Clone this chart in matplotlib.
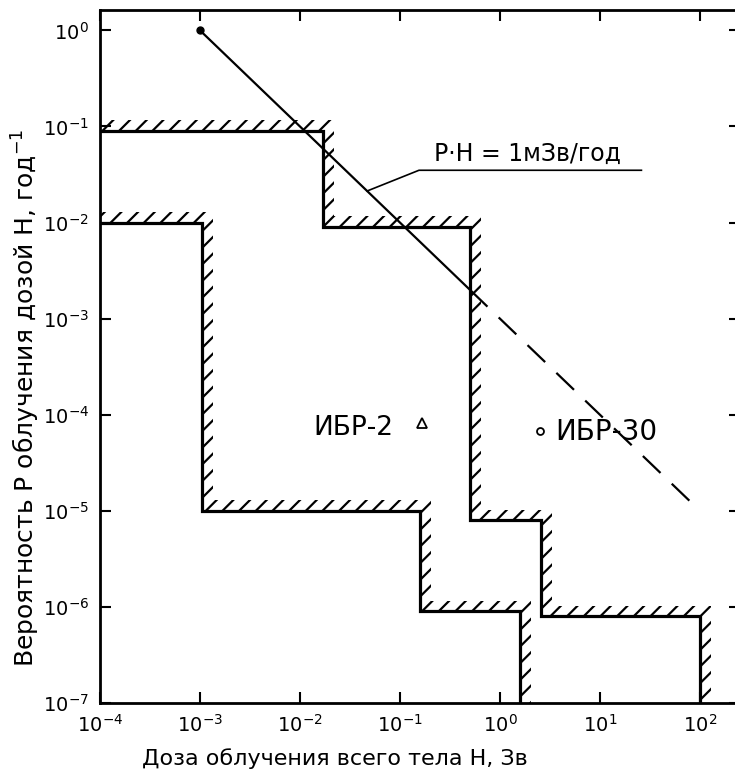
import numpy as np
import matplotlib.pyplot as plt
from matplotlib.ticker import NullLocator

plt.rcParams['font.family'] = ['DejaVu Sans']
plt.rcParams['hatch.linewidth'] = 1.6

# outer staircase: dose edges (Sv) and probability levels (1/yr)
outer_edges = [1e-4, 0.017, 0.5, 2.6, 100]
outer_levels = [0.09, 0.009, 8e-6, 8e-7]
# inner staircase
inner_edges = [1e-4, 1.05e-3, 0.16, 1.6]
inner_levels = [1e-2, 1e-5, 9e-7]

# P*H = 1 mSv/yr line
solid_H = [1e-3, 0.5]
solid_P = [1.0, 2e-3]
dash_H = [0.5, 100]
dash_P = [2e-3, 1e-5]

P_MIN = 1e-7

xticks = [1e-4, 1e-3, 1e-2, 1e-1, 1e0, 1e1, 1e2]
yticks = [1e-7, 1e-6, 1e-5, 1e-4, 1e-3, 1e-2, 1e-1, 1e0]


def stair(edges, levels):
    xs, ys = [edges[0]], [levels[0]]
    for i in range(len(levels)):
        nxt = levels[i + 1] if i + 1 < len(levels) else P_MIN
        xs += [edges[i + 1], edges[i + 1]]
        ys += [levels[i], nxt]
    return np.array(xs), np.array(ys)


def hatch_band(ax, xs, ys, f=10 ** 0.11):
    tx = xs * f
    ty = ys * f
    tx[0] = xs[0]
    ty[-1] = ys[-1]
    px = np.concatenate([xs, tx[::-1]])
    py = np.concatenate([ys, ty[::-1]])
    ax.fill(px, py, facecolor='none', edgecolor='k', linewidth=0, hatch='//')


fig = plt.figure(figsize=(7.35, 7.8), dpi=100)
ax = fig.add_axes([0.136, 0.0987, 0.8707, 0.888])
ax.set_xscale('log')
ax.set_yscale('log')
ax.set_xlim(1e-4, 10 ** 2.4)
ax.set_ylim(P_MIN, 10 ** 0.208)

for edges, levels in [(outer_edges, outer_levels), (inner_edges, inner_levels)]:
    xs, ys = stair(edges, levels)
    hatch_band(ax, xs, ys)
    ax.plot(xs, ys, color='k', lw=2.3, solid_joinstyle='miter')

ax.plot(solid_H, solid_P, color='k', lw=1.6)
ax.plot(dash_H, dash_P, color='k', lw=1.6, dashes=(11, 7))
ax.plot(solid_H[0], solid_P[0], 'o', color='k', ms=5)

# leader + underlined label
ax.plot([0.047, 0.155, 26.0], [0.0213, 0.035, 0.035], color='k', lw=1.2)
ax.text(1.9, 0.039, 'P·H = 1мЗв/год', ha='center', va='bottom', fontsize=17)

# reactor labels
ax.text(0.034, 7.2e-5, 'ИБР-2', ha='center', va='center', fontsize=19)
ax.plot([0.165], [8.2e-5], marker='^', mfc='none', mec='k', mew=1.3, ms=7)
ax.plot([2.5], [6.8e-5], marker='o', mfc='none', mec='k', mew=1.3, ms=5)
ax.text(3.6, 6.6e-5, 'ИБР-30', ha='left', va='center', fontsize=20)

ax.set_xticks(xticks)
ax.set_yticks(yticks)
ax.xaxis.set_minor_locator(NullLocator())
ax.yaxis.set_minor_locator(NullLocator())
ax.tick_params(which='major', direction='in', length=8, width=1.5,
               top=True, right=True, labelsize=14, pad=8)
for s in ax.spines.values():
    s.set_linewidth(2.0)

fig.text(0.455, 0.027, 'Доза облучения всего тела H, Зв', ha='center',
         va='center', fontsize=16)
fig.text(0.035, 0.49, 'Вероятность P облучения дозой H, год$^{-1}$',
         ha='center', va='center', rotation=90, fontsize=18)

fig.savefig('out.png', dpi=100)
